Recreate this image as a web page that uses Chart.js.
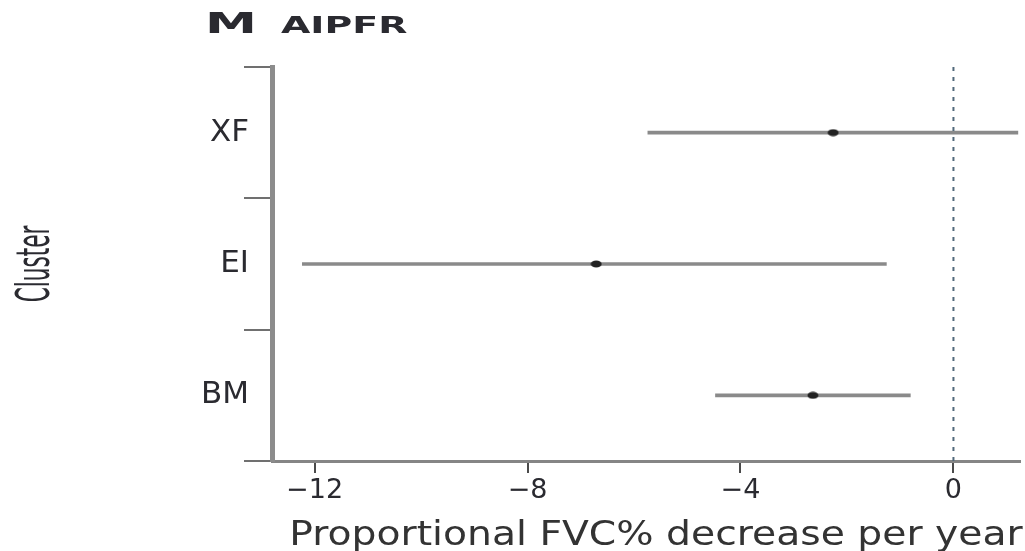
<!DOCTYPE html>
<html>
<head>
<meta charset="utf-8">
<script src="https://cdn.jsdelivr.net/npm/chart.js@4/dist/chart.umd.min.js"></script>
<style>
  html, body { margin: 0; padding: 0; background: #fff; overflow: hidden; }
  #wrap { width: 1025px; height: 551px; position: relative; }
  canvas { display: block; }
</style>
</head>
<body>
<div id="wrap"><canvas id="chart"></canvas></div>
<script>
// values
const categories = ['XF', 'EI', 'BM'];
const estimates = [-2.26, -6.71, -2.64];
const lower = [-5.74, -12.23, -4.47];
const upper = [1.21, -1.26, -0.81];
const xTicks = [-12, -8, -4, 0];

const textColor = '#2a2a30';

// small oval marker for the point estimates
const dot = document.createElement('canvas');
dot.width = 12;
dot.height = 8;
const dctx = dot.getContext('2d');
dctx.fillStyle = '#222';
dctx.beginPath();
dctx.ellipse(6, 4, 5.5, 3.5, 0, 0, Math.PI * 2);
dctx.fill();

// panel label, axis titles and the dotted line at zero
const extras = {
    id: 'extras',
    afterDatasetsDraw(chart) {
        const { ctx, chartArea, scales } = chart;
        const x0 = scales.x.getPixelForValue(0);
        ctx.save();
        ctx.strokeStyle = '#51687a';
        ctx.lineWidth = 2;
        ctx.setLineDash([4, 6]);
        ctx.beginPath();
        ctx.moveTo(x0, chartArea.top);
        ctx.lineTo(x0, chartArea.bottom);
        ctx.stroke();
        ctx.restore();
    },
    afterDraw(chart) {
        const { ctx, chartArea } = chart;
        ctx.save();
        ctx.fillStyle = textColor;
        ctx.textBaseline = 'alphabetic';
        ctx.textAlign = 'left';

        ctx.save();
        ctx.translate(205, 33);
        ctx.scale(1.8, 1);
        ctx.font = 'bold 29px "DejaVu Sans"';
        ctx.fillText('M', 0, 0);
        ctx.restore();

        ctx.save();
        ctx.translate(281, 33);
        ctx.scale(1.65, 1);
        ctx.font = 'bold 23px "DejaVu Sans"';
        ctx.fillText('AIPFR', 0, 0);
        ctx.restore();

        ctx.save();
        ctx.translate(37, (chartArea.top + chartArea.bottom) / 2);
        ctx.rotate(-Math.PI / 2);
        ctx.scale(1, 1.9);
        ctx.textAlign = 'center';
        ctx.textBaseline = 'middle';
        ctx.font = '24px "Liberation Sans Narrow", "DejaVu Sans Condensed", sans-serif';
        ctx.fillText('Cluster', 0, 0);
        ctx.restore();

        ctx.save();
        ctx.translate(656, 545);
        ctx.scale(1.19, 1);
        ctx.textAlign = 'center';
        ctx.fillStyle = '#333';
        ctx.font = '33px "DejaVu Sans"';
        ctx.fillText('Proportional FVC% decrease per year', 0, 0);
        ctx.restore();

        ctx.restore();
    }
};

new Chart(document.getElementById('chart'), {
    type: 'bar',
    data: {
        labels: categories,
        datasets: [
            {
                type: 'line',
                indexAxis: 'y',
                data: estimates,
                showLine: false,
                pointStyle: dot,
                order: 0
            },
            {
                type: 'bar',
                data: categories.map((c, i) => [lower[i], upper[i]]),
                backgroundColor: '#8a8a8a',
                borderWidth: 0,
                barThickness: 3,
                order: 1
            }
        ]
    },
    options: {
        indexAxis: 'y',
        responsive: true,
        maintainAspectRatio: false,
        animation: false,
        layout: { padding: { left: 10, right: 0, top: 67, bottom: 0 } },
        plugins: {
            legend: { display: false },
            tooltip: { enabled: false }
        },
        scales: {
            x: {
                type: 'linear',
                min: -12.8,
                max: 1.25,
                afterBuildTicks: (scale) => {
                    scale.ticks = xTicks.map((v) => ({ value: v }));
                },
                afterFit: (scale) => {
                    scale.height = 90;
                    scale.paddingLeft = 0;
                    scale.paddingRight = 0;
                },
                grid: {
                    drawOnChartArea: false,
                    tickLength: 12,
                    tickColor: '#4a4a4a',
                    lineWidth: 2
                },
                border: { color: '#858585', width: 3 },
                ticks: {
                    padding: 2,
                    color: textColor,
                    font: { family: 'DejaVu Sans', size: 27 },
                    callback: (v) => (v < 0 ? '\u2212' + Math.abs(v) : String(v))
                }
            },
            y: {
                type: 'category',
                offset: true,
                afterFit: (scale) => { scale.width = 262; },
                grid: {
                    offset: true,
                    drawOnChartArea: false,
                    tickLength: 28,
                    color: '#707070',
                    lineWidth: 2
                },
                border: { color: '#8c8c8c', width: 5 },
                ticks: {
                    padding: -5,
                    color: textColor,
                    font: { family: 'DejaVu Sans', size: 31 }
                }
            }
        }
    },
    plugins: [extras]
});
</script>
</body>
</html>
